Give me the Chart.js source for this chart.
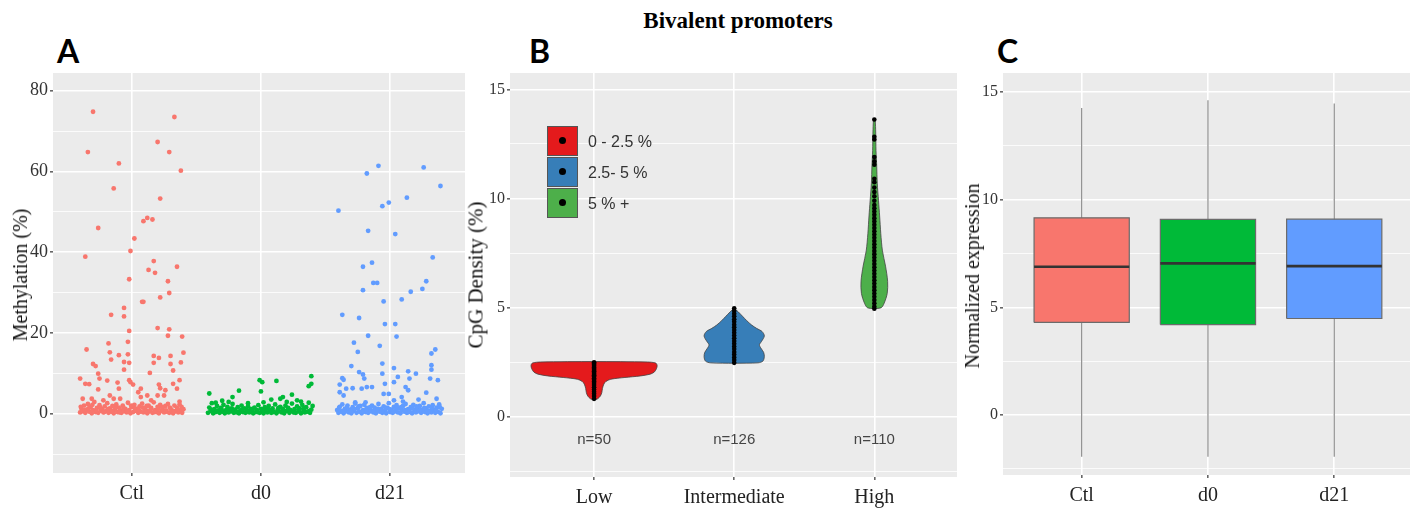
<!DOCTYPE html>
<html lang="en">
<head>
<meta charset="UTF-8">
<title>Bivalent promoters</title>
<script src="https://cdn.jsdelivr.net/npm/chart.js"></script>
<style>
  body { margin: 0; background: #fff; width: 1416px; height: 508px; position: relative; overflow: hidden; font-family: 'Liberation Serif', serif; }
  .panel { position: absolute; top: 73px; height: 435px; }
  .letter { position: absolute; top: 35px; font-family: Lato, sans-serif; font-weight: 700; font-size: 32px; line-height: 1; color: #000; }
  .ytitle { position: absolute; font-size: 20px; line-height: 1; white-space: nowrap; color: #111; transform: translate(-50%, -50%) rotate(-90deg); }
  #title { position: absolute; left: 738px; top: 9px; transform: translateX(-50%); font-weight: bold; font-size: 23px; line-height: 1; }
  .lbox { position: absolute; left: 547px; width: 29px; height: 28px; border: 1.5px solid #555; }
  .lbox::after { content: ''; position: absolute; left: 11px; top: 10px; width: 7px; height: 7px; border-radius: 50%; background: #000; }
  .ltext { position: absolute; left: 588px; font-family: 'Liberation Sans', sans-serif; font-size: 16px; color: #333; line-height: 1; transform: translateY(-50%); }
</style>
</head>
<body>
<div id="title">Bivalent promoters</div>
<div class="letter" style="left:57px">A</div>
<div class="letter" style="left:529px">B</div>
<div class="letter" style="left:997px">C</div>

<div class="panel" style="left:0;width:470px"><canvas id="chartA" width="470" height="435"></canvas></div>
<div class="panel" style="left:466px;width:494px"><canvas id="chartB" width="494" height="435"></canvas></div>
<div class="panel" style="left:960px;width:456px"><canvas id="chartC" width="456" height="435"></canvas></div>

<div class="ytitle" style="left:20px;top:275px">Methylation (%)</div>
<div class="ytitle" style="left:476px;top:275px;font-size:21px">CpG Density (%)</div>
<div class="ytitle" style="left:972px;top:276px">Normalized expression</div>

<div id="legendB"></div>

<script>
// ---------- panel A: methylation, [jitter, value] ----------
const methGroups = ['Ctl', 'd0', 'd21'];
const methColors = ['#F8766D', '#00BA38', '#619CFF'];
const methCtl = [
  [-0.30,74.8],[0.33,73.5],[-0.34,64.8],[0.20,67.3],[0.29,64.8],[-0.10,62.0],[0.38,60.2],[-0.14,55.8],[0.22,53.3],
  [-0.26,46.0],[0.09,47.7],[0.12,48.5],[0.16,48.1],[0.02,43.4],[-0.36,38.9],[-0.01,40.3],[0.17,37.8],[0.35,36.4],
  [0.13,35.6],[0.18,34.9],[-0.02,33.3],[0.28,32.8],[0.29,29.9],[0.22,28.8],[0.08,27.7],[0.09,27.7],[-0.06,26.2],
  [-0.06,24.1],[-0.16,24.5],[0.20,21.2],[0.29,20.9],[-0.02,20.5],[0.28,19.3],[0.39,19.1],[-0.18,17.4],[-0.03,17.8],
  [-0.35,15.9],[-0.17,15.2],[-0.10,14.5],[-0.03,14.7],[0.17,14.3],[0.21,13.8],[0.30,14.3],[0.40,15.1],[-0.16,13.4],
  [-0.06,12.8],[-0.02,12.6],[0.17,12.6],[0.30,12.3],[0.38,12.7],[-0.30,12.3],[-0.28,11.8],[-0.06,10.9],[0.32,10.7],
  [0.14,10.1],[-0.26,9.9],[-0.40,8.7],[-0.25,8.7],[-0.19,8.2],[-0.02,8.3],[-0.01,7.8],[-0.11,7.7],[-0.10,6.2],
  [-0.36,7.4],[-0.33,7.3],[-0.26,6.0],[0.01,7.2],[0.07,6.2],[0.05,5.3],[0.21,7.2],[0.22,6.3],[0.26,5.8],[0.32,7.4],
  [0.35,6.2],[0.37,8.3],[-0.38,3.7],[-0.31,3.7],[-0.22,3.3],[-0.17,4.5],[-0.14,3.7],[-0.09,3.7],[0.07,4.1],[0.12,4.5],
  [0.15,3.3],[0.37,3.0],[0.20,4.5],[0.25,4.5],
  [-0.40,0.3],[-0.39,1.2],[-0.38,0.6],[-0.37,2.0],[-0.36,0.2],[-0.35,1.0],[-0.34,2.4],[-0.33,0.5],[-0.32,1.6],
  [-0.31,0.1],[-0.30,0.9],[-0.29,2.9],[-0.28,0.4],[-0.27,1.4],[-0.26,0.2],[-0.25,2.1],[-0.24,0.7],[-0.23,1.1],
  [-0.22,0.3],[-0.21,1.8],[-0.20,0.6],[-0.19,2.6],[-0.18,0.2],[-0.17,1.3],[-0.16,0.5],[-0.15,1.9],[-0.14,0.1],
  [-0.13,1.0],[-0.12,2.3],[-0.11,0.4],[-0.10,1.5],[-0.09,0.8],[-0.08,0.2],[-0.07,2.0],[-0.06,0.6],[-0.05,1.2],
  [-0.04,0.3],[-0.03,2.7],[-0.02,0.9],[-0.01,0.1],[0.00,1.6],[0.01,0.4],[0.02,2.2],[0.03,0.7],[0.04,1.1],[0.05,0.2],
  [0.06,1.8],[0.07,0.5],[0.08,2.5],[0.09,0.3],[0.10,1.3],[0.11,0.8],[0.12,0.1],[0.13,2.0],[0.14,0.6],[0.15,1.4],
  [0.16,0.2],[0.17,2.8],[0.18,0.9],[0.19,0.4],[0.20,1.7],[0.21,0.1],[0.22,2.2],[0.23,0.7],[0.24,1.0],[0.25,0.3],
  [0.26,1.9],[0.27,0.5],[0.28,2.4],[0.29,0.2],[0.30,1.2],[0.31,0.8],[0.32,0.1],[0.33,2.0],[0.34,0.6],[0.35,1.5],
  [0.36,0.3],[0.37,2.3],[0.38,0.9],[0.39,0.2],[0.40,1.1],
  [-0.395,1.7],[-0.365,0.9],[-0.335,1.3],[-0.305,2.2],[-0.275,0.8],[-0.245,1.5],[-0.215,0.4],[-0.185,1.1],
  [-0.155,0.7],[-0.125,1.6],[-0.095,0.3],[-0.065,1.4],[-0.035,0.5],[-0.005,2.0],[0.025,1.3],[0.055,0.9],
  [0.085,1.5],[0.115,1.9],[0.145,1.0],[0.175,0.4],[0.205,1.2],[0.235,1.6],[0.265,0.8],[0.295,1.5],[0.325,0.6],
  [0.355,1.0],[0.385,1.7]
];
const methD0 = [
  [-0.40,5.0],[-0.22,4.1],[-0.17,5.7],[-0.01,8.3],[0.01,7.8],[0.00,5.5],[0.12,8.1],[0.39,9.3],[0.39,7.4],[0.37,6.8],
  [0.24,4.7],[0.17,4.1],[0.15,3.7],[0.08,3.5],[0.02,2.8],[0.31,3.0],[-0.30,3.2],[-0.25,2.9],[-0.10,2.6],[0.28,3.3],
  [-0.35,2.7],[0.20,2.9],
  [-0.41,0.2],[-0.40,1.5],[-0.39,0.7],[-0.38,2.6],[-0.37,0.1],[-0.36,1.1],[-0.35,0.4],[-0.34,1.9],[-0.33,0.8],
  [-0.32,0.2],[-0.31,1.4],[-0.30,0.5],[-0.29,2.2],[-0.28,0.1],[-0.27,0.9],[-0.26,1.7],[-0.25,0.3],[-0.24,1.2],
  [-0.23,0.6],[-0.22,2.4],[-0.21,0.2],[-0.20,1.0],[-0.19,0.5],[-0.18,1.6],[-0.17,0.1],[-0.16,0.8],[-0.15,2.0],
  [-0.14,0.4],[-0.13,1.3],[-0.12,0.2],[-0.11,0.9],[-0.10,1.8],[-0.09,0.3],[-0.08,1.1],[-0.07,0.6],[-0.06,0.1],
  [-0.05,1.5],[-0.04,0.4],[-0.03,0.9],[-0.02,2.1],[-0.01,0.2],[0.00,1.2],[0.01,0.5],[0.02,0.1],[0.03,1.6],[0.04,0.7],
  [0.05,0.3],[0.06,1.9],[0.07,0.9],[0.08,0.2],[0.09,1.3],[0.10,0.5],[0.11,2.3],[0.12,0.1],[0.13,1.0],[0.14,0.6],
  [0.15,1.7],[0.16,0.3],[0.17,1.2],[0.18,0.1],[0.19,2.0],[0.20,0.7],[0.21,1.4],[0.22,0.2],[0.23,0.9],[0.24,2.5],
  [0.25,0.4],[0.26,1.1],[0.27,0.2],[0.28,1.8],[0.29,0.6],[0.30,1.3],[0.31,0.1],[0.32,2.2],[0.33,0.8],[0.34,0.3],
  [0.35,1.6],[0.36,0.5],[0.37,2.7],[0.38,0.2],[0.39,1.0],[0.40,1.9],
  [-0.385,1.0],[-0.345,0.5],[-0.305,1.1],[-0.265,0.6],[-0.225,1.3],[-0.185,0.3],[-0.145,1.0],[-0.105,0.6],
  [-0.065,1.2],[-0.025,0.4],[0.015,0.9],[0.055,1.1],[0.095,0.4],[0.135,1.4],[0.175,0.6],[0.215,1.0],[0.255,0.3],
  [0.295,1.1],[0.335,1.4],[0.375,0.7]
];
const methD21 = [
  [-0.09,61.4],[-0.18,59.5],[0.26,61.0],[0.39,56.4],[-0.40,50.3],[-0.06,51.4],[-0.01,52.3],[0.13,53.5],[-0.17,45.3],
  [0.04,44.5],[0.33,38.7],[-0.14,37.4],[-0.21,36.4],[-0.13,32.4],[-0.10,32.4],[-0.21,30.6],[0.28,32.8],[0.25,30.9],
  [0.16,30.2],[0.09,28.3],[-0.05,27.8],[-0.37,24.5],[-0.24,23.7],[-0.04,22.2],[0.04,22.2],[-0.17,19.3],[0.05,19.1],
  [-0.28,17.6],[-0.08,16.8],[-0.25,15.3],[0.35,15.9],[0.32,14.9],[-0.30,11.8],[-0.06,12.4],[0.03,11.3],[0.32,12.0],
  [0.32,10.9],[-0.24,10.3],[-0.06,9.9],[0.14,10.5],[0.20,9.9],[-0.37,8.8],[-0.36,8.4],[-0.21,9.7],[-0.20,8.7],
  [0.06,9.1],[0.15,8.7],[0.31,8.7],[0.37,8.3],[-0.39,7.2],[-0.29,6.3],[-0.22,6.2],[-0.18,6.6],[-0.14,6.6],[-0.04,7.4],
  [0.03,7.8],[-0.05,4.9],[-0.01,4.9],[0.12,6.6],[0.14,5.8],[0.09,4.1],[0.28,5.2],[0.36,3.7],[-0.39,5.3],[-0.36,4.5],
  [-0.34,6.2],[-0.27,2.8],[-0.19,2.8],[0.03,3.3],[0.22,3.5],[0.10,3.0],
  [-0.41,0.9],[-0.40,0.2],[-0.39,1.7],[-0.38,0.5],[-0.37,2.3],[-0.36,0.1],[-0.35,1.2],[-0.34,0.6],[-0.33,2.0],
  [-0.32,0.3],[-0.31,1.0],[-0.30,0.1],[-0.29,1.6],[-0.28,0.7],[-0.27,2.5],[-0.26,0.2],[-0.25,1.3],[-0.24,0.5],
  [-0.23,1.9],[-0.22,0.1],[-0.21,0.9],[-0.20,2.2],[-0.19,0.4],[-0.18,1.4],[-0.17,0.2],[-0.16,1.1],[-0.15,0.6],
  [-0.14,2.0],[-0.13,0.3],[-0.12,1.5],[-0.11,0.1],[-0.10,0.8],[-0.09,2.4],[-0.08,0.5],[-0.07,1.2],[-0.06,0.2],
  [-0.05,1.8],[-0.04,0.7],[-0.03,0.1],[-0.02,1.4],[-0.01,2.6],[0.00,0.4],[0.01,1.0],[0.02,0.2],[0.03,1.7],[0.04,0.6],
  [0.05,2.1],[0.06,0.3],[0.07,1.3],[0.08,0.1],[0.09,0.9],[0.10,1.9],[0.11,0.5],[0.12,2.4],[0.13,0.2],[0.14,1.1],
  [0.15,0.7],[0.16,1.6],[0.17,0.1],[0.18,2.2],[0.19,0.8],[0.20,0.3],[0.21,1.4],[0.22,0.6],[0.23,1.9],[0.24,0.2],
  [0.25,1.0],[0.26,2.6],[0.27,0.4],[0.28,1.3],[0.29,0.1],[0.30,1.8],[0.31,0.7],[0.32,0.3],[0.33,2.1],[0.34,0.9],
  [0.35,0.2],[0.36,1.5],[0.37,0.5],[0.38,2.3],[0.39,0.1],[0.40,1.2],
  [-0.395,1.4],[-0.365,0.7],[-0.335,1.5],[-0.305,0.6],[-0.275,1.2],[-0.245,1.8],[-0.215,0.5],[-0.185,1.0],
  [-0.155,1.6],[-0.125,0.8],[-0.095,1.2],[-0.065,0.6],[-0.035,1.5],[-0.005,1.1],[0.025,0.5],[0.055,1.3],
  [0.085,1.6],[0.115,0.9],[0.145,0.4],[0.175,1.3],[0.205,1.8],[0.235,0.9],[0.265,1.4],[0.295,0.6],[0.325,1.2],
  [0.355,0.8],[0.385,1.6]
];

// ---------- panel B: CpG density violins, [value, half width] ----------
const densityCats = ['Low', 'Intermediate', 'High'];
const densityColors = ['#E41A1C', '#377EB8', '#4DAF4A'];
const densityLegend = ['0 - 2.5 %', '2.5- 5 %', '5 % +'];
const densityCounts = ['n=50', 'n=126', 'n=110'];
const violinLow = [[0.76,0],[0.82,0.025],[0.95,0.045],[1.1,0.055],[1.3,0.06],[1.5,0.07],[1.62,0.085],[1.72,0.12],
  [1.8,0.22],[1.87,0.33],[1.95,0.40],[2.05,0.43],[2.2,0.445],[2.35,0.45],[2.46,0.44],[2.51,0.38],[2.53,0]];
const violinInt = [[2.45,0],[2.47,0.17],[2.55,0.205],[2.75,0.215],[2.95,0.21],[3.15,0.19],[3.3,0.18],[3.45,0.195],
  [3.7,0.215],[3.9,0.2],[4.05,0.16],[4.2,0.125],[4.4,0.09],[4.6,0.06],[4.8,0.03],[4.97,0]];
const violinHigh = [[4.95,0],[5.0,0.05],[5.2,0.07],[5.65,0.092],[6.2,0.095],[6.9,0.08],[7.6,0.058],[8.4,0.046],
  [9.2,0.038],[9.9,0.03],[10.7,0.021],[11.5,0.017],[12.2,0.012],[13.0,0.01],[13.6,0.006],[13.65,0]];
const dotsLow = [0.82,0.95,1.05,1.15,1.25,1.35,1.45,1.55,1.62,1.7,1.77,1.84,1.9,1.96,2.02,2.08,2.14,2.2,2.26,2.32,2.38,2.44,2.5];
const dotsInt = [2.47,2.6,2.72,2.85,2.97,3.1,3.22,3.35,3.47,3.6,3.72,3.85,3.97,4.1,4.22,4.35,4.47,4.6,4.72,4.85,4.97];
const dotsHigh = [13.62,12.83,12.7,11.9,11.7,11.55,10.9,10.75,10.5,10.3,10.1,9.9,9.7,9.55,9.4,9.25,9.1,8.95,8.8,8.65,
  8.5,8.35,8.2,8.05,7.9,7.75,7.6,7.45,7.3,7.15,7.0,6.85,6.7,6.55,6.4,6.25,6.1,5.95,5.8,5.65,5.5,5.35,5.2,5.05,4.95];

// ---------- panel C: expression box plots ----------
const exprGroups = ['Ctl', 'd0', 'd21'];
const exprColors = ['#F8766D', '#00BA38', '#619CFF'];
const exprMin = [-1.93, -1.93, -1.93];
const exprQ1 = [4.3, 4.2, 4.48];
const exprMedian = [6.88, 7.04, 6.91];
const exprQ3 = [9.15, 9.08, 9.09];
const exprMax = [14.25, 14.6, 14.45];

// ---------- helpers ----------
const serif = 'Liberation Serif';

const panelBg = {
  id: 'panelBg',
  beforeDraw(chart) {
    const {ctx, chartArea: a} = chart;
    ctx.save();
    ctx.fillStyle = '#EBEBEB';
    ctx.fillRect(a.left, a.top, a.right - a.left, a.bottom - a.top);
    ctx.restore();
  }
};

function yAxis(min, max, ticks, step, width, size) {
  const major = v => Math.abs(v % step) < 1e-9;
  return {
    min: min, max: max,
    afterBuildTicks: s => { s.ticks = ticks.map(v => ({value: v})); },
    afterFit: s => { s.width = width; s.paddingTop = 0; s.paddingBottom = 0; },
    ticks: { autoSkip: false, padding: 2, color: '#333', font: {family: serif, size: size},
             callback: v => major(v) ? v : '' },
    grid: { color: '#fff', lineWidth: c => (c.tick && major(c.tick.value)) ? 1.6 : 0.8,
            tickColor: c => (c.tick && major(c.tick.value)) ? '#666' : 'rgba(0,0,0,0)', tickLength: 3 },
    border: { display: false }
  };
}

function xAxis(labels, min, max, height) {
  return {
    type: 'linear', min: min, max: max,
    afterBuildTicks: s => { s.ticks = labels.map((l, i) => ({value: i + 1})); },
    afterFit: s => { s.height = height; s.paddingLeft = 0; s.paddingRight = 0; },
    ticks: { autoSkip: false, maxRotation: 0, padding: 6, color: '#222', font: {family: serif, size: 20},
             callback: v => labels[v - 1] },
    grid: { color: '#fff', lineWidth: 1.6, tickColor: '#666', tickLength: 3 },
    border: { display: false }
  };
}

function baseOptions(padRight) {
  return {
    responsive: false, animation: false,
    layout: { autoPadding: false, padding: {left: 0, right: padRight, top: 0, bottom: 0} },
    plugins: { legend: {display: false}, tooltip: {enabled: false} }
  };
}

function violinShape(profile, c) {
  const right = profile.map(([y, w]) => ({x: c + w, y: y}));
  const left = profile.slice().reverse().map(([y, w]) => ({x: c - w, y: y}));
  return right.concat(left);
}

// ---------- chart A ----------
new Chart(document.getElementById('chartA'), {
  type: 'scatter',
  data: {
    datasets: [methCtl, methD0, methD21].map((pts, g) => ({
      label: methGroups[g],
      data: pts.map(([dx, y]) => ({x: g + 1 + dx, y: y})),
      backgroundColor: methColors[g], pointRadius: 2.4, pointBorderWidth: 0
    }))
  },
  options: Object.assign(baseOptions(5), {
    scales: {
      x: xAxis(methGroups, 0.39, 3.58, 35),
      y: yAxis(-14.7, 84.4, [-10, 0, 10, 20, 30, 40, 50, 60, 70, 80], 20, 53, 18)
    }
  }),
  plugins: [panelBg]
});

// ---------- chart B ----------
const countY = -1.07;
const countLabels = {
  id: 'countLabels',
  afterDatasetsDraw(chart) {
    const {ctx, scales: {x, y}} = chart;
    ctx.save();
    ctx.font = '15px "Liberation Sans"';
    ctx.fillStyle = '#444';
    ctx.textAlign = 'center';
    ctx.textBaseline = 'middle';
    densityCounts.forEach((t, i) => ctx.fillText(t, x.getPixelForValue(i + 1), y.getPixelForValue(countY)));
    ctx.restore();
  }
};

const violinSets = [violinLow, violinInt, violinHigh].map((p, i) => ({
  label: densityCats[i],
  data: violinShape(p, i + 1),
  showLine: true, fill: 'shape', order: 2,
  backgroundColor: densityColors[i], borderColor: '#444', borderWidth: 0.8,
  pointRadius: 0, tension: 0.3
}));
const dotSets = [dotsLow, dotsInt, dotsHigh].map((d, i) => ({
  label: densityCats[i] + ' points',
  data: d.map(v => ({x: i + 1, y: v})),
  order: 1, backgroundColor: '#000', pointRadius: 2.3, pointBorderWidth: 0
}));

new Chart(document.getElementById('chartB'), {
  type: 'scatter',
  data: { datasets: violinSets.concat(dotSets) },
  options: Object.assign(baseOptions(3), {
    scales: {
      x: xAxis(densityCats, 0.4, 3.59, 31),
      y: yAxis(-2.76, 15.75, [-2.5, 0, 2.5, 5, 7.5, 10, 12.5, 15], 5, 44, 16)
    }
  }),
  plugins: [panelBg, countLabels]
});

// ---------- chart C ----------
const boxHalf = 0.377;
const whiskerSets = exprGroups.map((g, i) => ({
  label: g + ' whisker',
  data: [{x: i + 1, y: exprMin[i]}, {x: i + 1, y: exprMax[i]}],
  showLine: true, order: 3, borderColor: '#8c8c8c', borderWidth: 1.2, pointRadius: 0
}));
const boxSets = exprGroups.map((g, i) => ({
  label: g,
  data: [{x: i + 1 - boxHalf, y: exprQ1[i]}, {x: i + 1 + boxHalf, y: exprQ1[i]}, {x: i + 1 + boxHalf, y: exprQ3[i]},
         {x: i + 1 - boxHalf, y: exprQ3[i]}, {x: i + 1 - boxHalf, y: exprQ1[i]}],
  showLine: true, fill: 'shape', order: 2,
  backgroundColor: exprColors[i], borderColor: '#6b6b6b', borderWidth: 1.2, pointRadius: 0
}));
const medianSets = exprGroups.map((g, i) => ({
  label: g + ' median',
  data: [{x: i + 1 - boxHalf, y: exprMedian[i]}, {x: i + 1 + boxHalf, y: exprMedian[i]}],
  showLine: true, order: 1, borderColor: '#333', borderWidth: 2.6, pointRadius: 0
}));

new Chart(document.getElementById('chartC'), {
  type: 'scatter',
  data: { datasets: whiskerSets.concat(boxSets, medianSets) },
  options: Object.assign(baseOptions(6), {
    scales: {
      x: xAxis(exprGroups, 0.377, 3.6, 33),
      y: yAxis(-2.78, 15.87, [-2.5, 0, 2.5, 5, 7.5, 10, 12.5, 15], 5, 43, 16)
    }
  }),
  plugins: [panelBg]
});

// ---------- legend B ----------
const legendB = document.getElementById('legendB');
const boxTops = [126, 157, 188];
densityLegend.forEach((t, i) => {
  const b = document.createElement('div');
  b.className = 'lbox';
  b.style.top = boxTops[i] + 'px';
  b.style.background = densityColors[i];
  legendB.appendChild(b);
  const s = document.createElement('div');
  s.className = 'ltext';
  s.style.top = (boxTops[i] + 16) + 'px';
  s.textContent = t;
  legendB.appendChild(s);
});
</script>
</body>
</html>
